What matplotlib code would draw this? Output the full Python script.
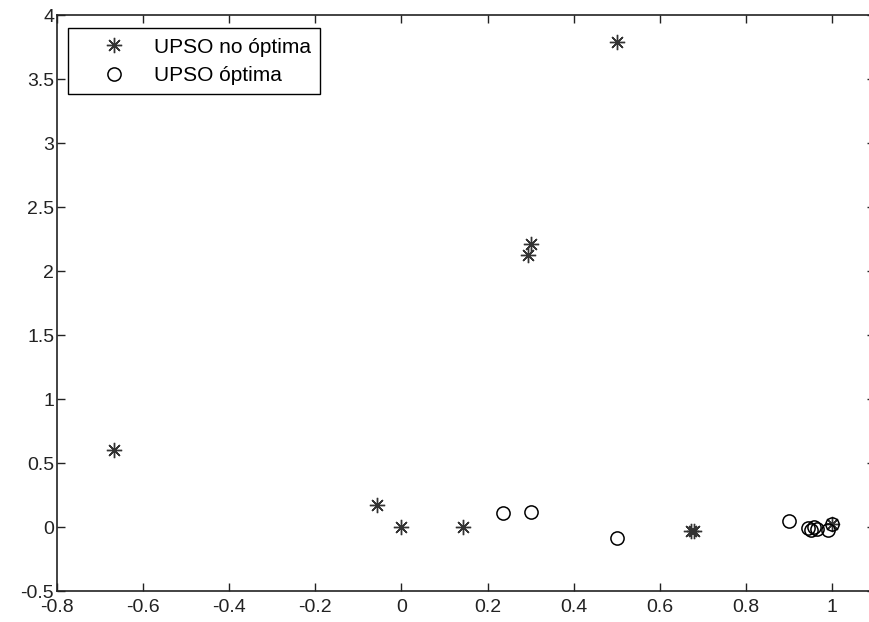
import matplotlib.pyplot as plt

plt.rcParams['font.family'] = ['Liberation Sans', 'DejaVu Sans']

# UPSO no óptima (stars)
x_no = [-0.667, -0.056, 0.0, 0.143, 0.293, 0.302, 0.5, 0.672, 0.679, 1.0]
y_no = [0.60, 0.175, 0.0, 0.0, 2.125, 2.21, 3.79, -0.03, -0.035, 0.02]

# UPSO óptima (circles)
x_opt = [0.237, 0.302, 0.5, 0.9, 0.945, 0.952, 0.958, 0.965, 0.99, 1.0]
y_opt = [0.107, 0.12, -0.083, 0.047, -0.01, -0.02, 0.0, -0.015, -0.025, 0.02]

fig = plt.figure(figsize=(8.69, 6.22), dpi=100)
ax = fig.add_axes([57 / 869, 31 / 622, 818 / 869, 576 / 622])

ax.plot(x_no, y_no, linestyle='none', marker=(8, 2, 0), markersize=11,
        markeredgewidth=1.0, color='#333333', label='UPSO no óptima')
ax.plot(x_opt, y_opt, linestyle='none', marker='o', markersize=9.5,
        markeredgewidth=1.1, markerfacecolor='none', markeredgecolor='black',
        label='UPSO óptima')

ax.set_xlim(-0.8, 1.1)
ax.set_ylim(-0.5, 4)
ax.set_xticks([-0.8, -0.6, -0.4, -0.2, 0, 0.2, 0.4, 0.6, 0.8, 1])
ax.set_xticklabels(['-0.8', '-0.6', '-0.4', '-0.2', '0', '0.2', '0.4', '0.6', '0.8', '1'])
ax.set_yticks([-0.5, 0, 0.5, 1, 1.5, 2, 2.5, 3, 3.5, 4])
ax.set_yticklabels(['-0.5', '0', '0.5', '1', '1.5', '2', '2.5', '3', '3.5', '4'])

ax.tick_params(direction='in', length=6, width=1, top=True, right=True,
               labelsize=14, colors='#222222')
ax.tick_params(axis='x', pad=6)
ax.tick_params(axis='y', pad=2)
for s in ax.spines.values():
    s.set_linewidth(1.2)
    s.set_color('#222222')

leg = ax.legend(loc='upper left', bbox_to_anchor=(0.0134, 0.977), borderaxespad=0,
                numpoints=1, fontsize=15, fancybox=False, framealpha=1,
                edgecolor='black', handlelength=3.5, handletextpad=0.16,
                borderpad=0.45, labelspacing=0.45)
leg.get_frame().set_linewidth(1.0)

fig.savefig('out.png', dpi=100)
